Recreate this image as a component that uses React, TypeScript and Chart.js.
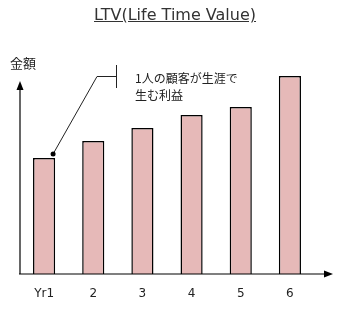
import React, { useEffect, useRef } from "react";
import { Chart, registerables } from "chart.js";

Chart.register(...registerables);

const categories = ["Yr1", "2", "3", "4", "5", "6"];
const values = [116, 133, 146, 159, 167, 198];
const yMax = 200;
const titleText = "LTV(Life Time Value)";
const yAxisLabel = "金額";
const noteLines = ["1人の顧客が生涯で", "生む利益"];

const axesPlugin = {
  id: "axesArrows",
  afterDraw(chart: any) {
    const { ctx } = chart;
    const ys = chart.scales.y;
    const base = ys.getPixelForValue(0);
    const left = 20;
    ctx.save();
    ctx.strokeStyle = "#000";
    ctx.fillStyle = "#000";
    ctx.lineWidth = 1.2;
    // x axis
    ctx.beginPath();
    ctx.moveTo(left - 1, base);
    ctx.lineTo(326, base);
    ctx.stroke();
    ctx.beginPath();
    ctx.moveTo(333, base);
    ctx.lineTo(324, base - 3.5);
    ctx.lineTo(324, base + 3.5);
    ctx.closePath();
    ctx.fill();
    // y axis
    ctx.beginPath();
    ctx.moveTo(left, base);
    ctx.lineTo(left, 88);
    ctx.stroke();
    ctx.beginPath();
    ctx.moveTo(left, 81);
    ctx.lineTo(left - 3.5, 90);
    ctx.lineTo(left + 3.5, 90);
    ctx.closePath();
    ctx.fill();
    // annotation callout
    const meta = chart.getDatasetMeta(0);
    const bar = meta.data[0];
    const dx = bar.x + 9;
    const dy = ys.getPixelForValue(values[0]) - 4;
    ctx.lineWidth = 1;
    ctx.strokeStyle = "#222";
    ctx.beginPath();
    ctx.moveTo(dx, dy);
    ctx.lineTo(97, 76.5);
    ctx.lineTo(116, 76.5);
    ctx.stroke();
    ctx.beginPath();
    ctx.moveTo(116.5, 65);
    ctx.lineTo(116.5, 88);
    ctx.stroke();
    ctx.beginPath();
    ctx.arc(dx, dy, 2.5, 0, Math.PI * 2);
    ctx.fill();
    ctx.restore();
  },
};

export default function App() {
  const ref = useRef<HTMLCanvasElement>(null);
  useEffect(() => {
    if (!ref.current) return;
    const chart = new Chart(ref.current, {
      type: "bar",
      data: {
        labels: categories,
        datasets: [
          {
            data: values,
            backgroundColor: "#E6B9B8",
            borderColor: "#000",
            borderWidth: 1.5,
            borderSkipped: "bottom",
            categoryPercentage: 1,
            barPercentage: 0.45,
          },
        ],
      },
      options: {
        responsive: false,
        animation: false,
        layout: { padding: { top: 74, left: 19.5, right: 25.5, bottom: 0 } },
        plugins: {
          legend: { display: false },
          tooltip: { enabled: false },
          title: { display: false },
        },
        scales: {
          x: {
            grid: { display: false, drawTicks: false },
            border: { display: false },
            ticks: {
              color: "#222",
              font: { family: "DejaVu Sans", size: 12 },
              padding: 13,
            },
            afterFit: (s: any) => {
              s.height = 36;
            },
          },
          y: {
            display: false,
            min: 0,
            max: yMax,
          },
        },
      },
      plugins: [axesPlugin],
    });
    return () => chart.destroy();
  }, []);

  return (
    <div style={{ position: "absolute", left: 0, top: 0, width: 340, height: 310, background: "#fff" }}>
      <canvas ref={ref} width={340} height={310} style={{ display: "block" }} />
      <div
        style={{
          position: "absolute",
          left: 94,
          top: 7,
          fontFamily: "DejaVu Sans",
          fontSize: 16,
          lineHeight: "16px",
          color: "#333",
          textDecoration: "underline",
          whiteSpace: "nowrap",
        }}
      >
        {titleText}
      </div>
      <div
        style={{
          position: "absolute",
          left: 10,
          top: 56,
          fontFamily: "Noto Sans CJK JP",
          fontSize: 13,
          lineHeight: "14px",
          color: "#222",
          whiteSpace: "nowrap",
        }}
      >
        {yAxisLabel}
      </div>
      <div
        style={{
          position: "absolute",
          left: 135,
          top: 69,
          fontFamily: "Noto Sans CJK JP",
          fontSize: 12,
          lineHeight: "17px",
          color: "#222",
          whiteSpace: "nowrap",
        }}
      >
        {noteLines.map((l, i) => (
          <div key={i}>{l}</div>
        ))}
      </div>
    </div>
  );
}
